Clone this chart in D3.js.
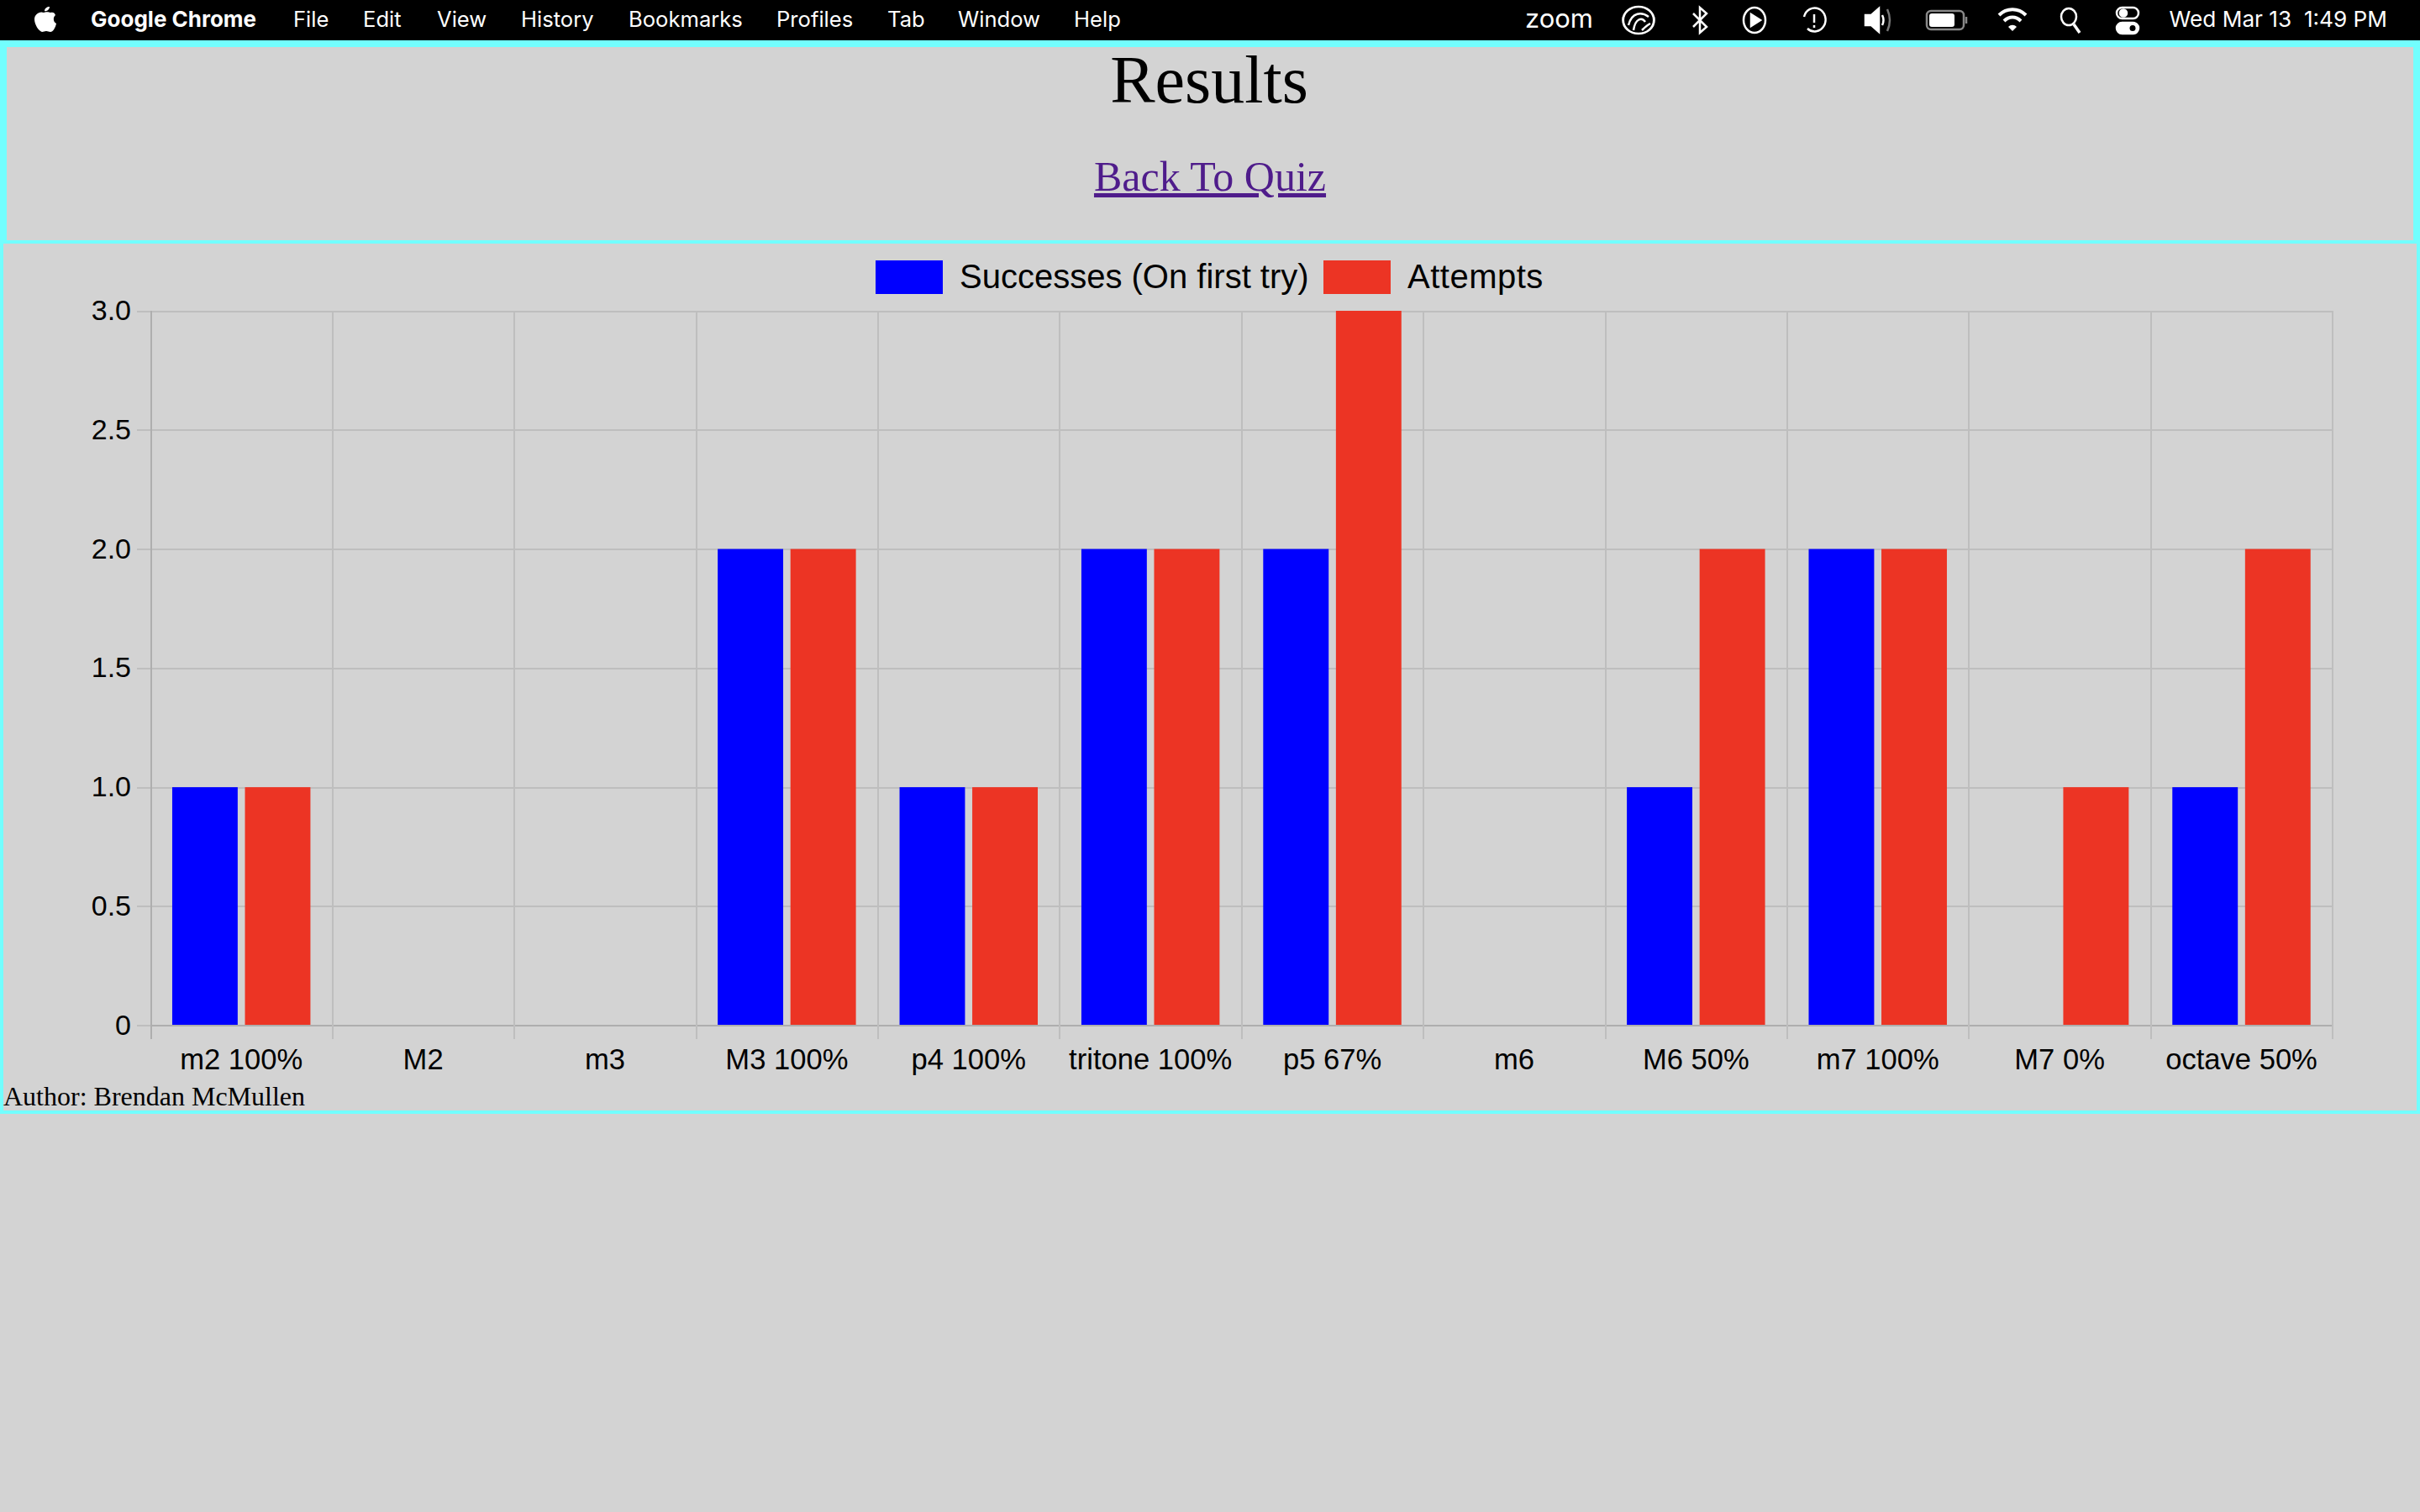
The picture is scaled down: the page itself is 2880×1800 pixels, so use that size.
<!DOCTYPE html>
<html>
<head>
<meta charset="utf-8">
<title>Results</title>
<script src="https://cdn.jsdelivr.net/npm/d3@7"></script>
<style>
    html, body { margin: 0; padding: 0; background: #d3d3d3; overflow: hidden; }
    svg { display: block; }
    .menu { font-family: Inter, "Noto Sans", sans-serif; fill: #fff; font-size: 25.6px; white-space: pre; }
    .serif { font-family: "Liberation Serif", serif; }
    .chart-text { font-family: "Liberation Sans", sans-serif; fill: #000; }
</style>
</head>
<body>
<div id="my_dataviz"></div>
<script>
var intervals = ["m2 100%", "M2", "m3", "M3 100%", "p4 100%", "tritone 100%", "p5 67%", "m6", "M6 50%", "m7 100%", "M7 0%", "octave 50%"];
var successes = [1, 0, 0, 2, 1, 2, 2, 0, 1, 2, 0, 1];
var attempts = [1, 0, 0, 2, 1, 2, 3, 0, 2, 2, 1, 2];
var seriesNames = ["Successes (On first try)", "Attempts"];
var yTicks = [0, 0.5, 1, 1.5, 2, 2.5, 3];

var menuLeft = [["File", 349], ["Edit", 432], ["View", 520], ["History", 620], ["Bookmarks", 748], ["Profiles", 924], ["Tab", 1056], ["Window", 1140], ["Help", 1278]];

var BLUE = "#0000ff", RED = "#ec3424", CYAN = "#72fefe", BG = "#d3d3d3";
var GRID = "#bebebe", AXIS = "#aeaeae";

var plot = {left: 179, right: 2775.7, top: 370, bottom: 1220.7};

var svg = d3.select("#my_dataviz")
    .append("svg")
    .attr("width", 2880)
    .attr("height", 1800)
    .style("background-color", BG);

DrawMenuBar();
DrawBoxes();
DrawChart();

function DrawBoxes()
{
    // outline pieces: x, y, w, h
    var outline = [
        [0, 48, 2880, 8],       // header top
        [0, 48, 8, 240],        // header left
        [2872, 48, 8, 240],     // header right
        [0, 286, 2880, 4],      // between header and chart
        [0, 286, 4, 1040],      // chart left
        [2876, 286, 4, 1040],   // chart right
        [0, 1322, 2880, 4]      // chart bottom
    ];
    svg.append("g").selectAll("rect").data(outline).enter().append("rect")
        .attr("x", function(d) { return d[0]; })
        .attr("y", function(d) { return d[1]; })
        .attr("width", function(d) { return d[2]; })
        .attr("height", function(d) { return d[3]; })
        .attr("fill", CYAN);

    svg.append("text").attr("class", "serif")
        .attr("x", 1439).attr("y", 122)
        .attr("text-anchor", "middle")
        .style("font-size", "80px")
        .text("Results");

    svg.append("a").attr("href", "#")
        .append("text").attr("class", "serif")
        .attr("x", 1440).attr("y", 227)
        .attr("text-anchor", "middle")
        .attr("fill", "#4f1c8b")
        .style("font-size", "50px")
        .style("text-decoration", "underline")
        .style("text-decoration-thickness", "5px")
        .style("text-underline-offset", "3px")
        .text("Back To Quiz");

    svg.append("text").attr("class", "serif")
        .attr("x", 4).attr("y", 1316)
        .style("font-size", "32px")
        .text("Author: Brendan McMullen");
}

function DrawChart()
{
    var x0 = d3.scaleBand().domain(intervals).range([plot.left, plot.right]);
    var x1 = d3.scaleBand().domain(seriesNames)
        .range([x0.bandwidth() * 0.1, x0.bandwidth() * 0.9])
        .paddingInner(0.1).paddingOuter(0.05);
    var y = d3.scaleLinear().domain([0, 3]).range([plot.bottom, plot.top]);
    var edges = d3.scaleLinear().domain([0, intervals.length]).range([plot.left, plot.right]);

    // horizontal grid + y labels
    var yAxis = svg.append("g")
        .attr("transform", "translate(" + plot.left + ",0)")
        .call(d3.axisLeft(y).tickValues(yTicks)
            .tickFormat(function(d) { return d === 0 ? "0" : d3.format(".1f")(d); })
            .tickSizeInner(16).tickSizeOuter(0).tickPadding(7));
    yAxis.select(".domain").attr("stroke", AXIS).attr("stroke-width", 2).attr("shape-rendering", "crispEdges");
    yAxis.selectAll(".tick line").attr("stroke", GRID).attr("stroke-width", 2).attr("shape-rendering", "crispEdges");
    yAxis.selectAll(".tick").append("line")
        .attr("x2", plot.right - plot.left)
        .attr("stroke", function(d) { return d === 0 ? AXIS : GRID; })
        .attr("stroke-width", 2)
        .attr("shape-rendering", "crispEdges");
    yAxis.selectAll(".tick text")
        .attr("class", "chart-text")
        .attr("dy", "0.31em")
        .style("font-size", "34px");

    // vertical grid
    var xGrid = svg.append("g")
        .attr("transform", "translate(0," + (plot.bottom + 16) + ")")
        .call(d3.axisBottom(edges).tickValues(d3.range(intervals.length + 1))
            .tickFormat("").tickSizeInner(-(plot.bottom + 16 - plot.top)).tickSizeOuter(0));
    xGrid.select(".domain").remove();
    xGrid.selectAll(".tick line")
        .attr("stroke", function(d) { return d === 0 ? AXIS : GRID; })
        .attr("stroke-width", 2)
        .attr("shape-rendering", "crispEdges");

    // category labels
    var xAxis = svg.append("g")
        .attr("transform", "translate(0," + plot.bottom + ")")
        .call(d3.axisBottom(x0).tickSize(0).tickPadding(28));
    xAxis.select(".domain").remove();
    xAxis.selectAll(".tick text")
        .attr("class", "chart-text")
        .style("font-size", "34.6px");

    // bars
    var rows = intervals.map(function(d, i) {
        return {name: d, values: [
            {series: seriesNames[0], value: successes[i], color: BLUE},
            {series: seriesNames[1], value: attempts[i], color: RED}
        ]};
    });
    svg.append("g").selectAll("g")
        .data(rows)
        .enter().append("g")
        .attr("transform", function(d) { return "translate(" + x0(d.name) + ",0)"; })
        .selectAll("rect")
        .data(function(d) { return d.values; })
        .enter().append("rect")
        .attr("x", function(d) { return x1(d.series); })
        .attr("y", function(d) { return y(d.value); })
        .attr("width", x1.bandwidth())
        .attr("height", function(d) { return Math.max(0, y(0) - y(d.value) - 0.7); })
        .attr("fill", function(d) { return d.color; });

    // legend
    var legend = [[seriesNames[0], BLUE, 1042, 0], [seriesNames[1], RED, 1575, 0.5]];
    legend.forEach(function(l) {
        svg.append("rect").attr("x", l[2]).attr("y", 310).attr("width", 80).attr("height", 40).attr("fill", l[1]);
        svg.append("text").attr("class", "chart-text")
            .attr("x", l[2] + 100).attr("y", 343)
            .style("font-size", "40px")
            .style("letter-spacing", l[3] + "px")
            .text(l[0]);
    });
}

function DrawMenuBar()
{
    svg.append("rect").attr("width", 2880).attr("height", 48).attr("fill", "#000");

    svg.append("text").attr("class", "menu").attr("x", 108).attr("y", 32)
        .style("font-weight", 700).style("font-size", "26px").text("Google Chrome");
    svg.selectAll("text.item").data(menuLeft).enter().append("text")
        .attr("class", "menu item")
        .attr("x", function(d) { return d[1]; })
        .attr("y", 32)
        .text(function(d) { return d[0]; });

    svg.append("text").attr("class", "menu").attr("x", 1815).attr("y", 33)
        .style("font-size", "31px").style("font-weight", 400).text("zoom");
    svg.append("text").attr("class", "menu").attr("x", 2841).attr("y", 32)
        .attr("text-anchor", "end").style("font-size", "26.2px").text("Wed Mar 13  1:49 PM");

    // apple logo
    svg.append("path")
        .attr("transform", "translate(39,8)")
        .attr("fill", "#fff")
        .attr("d", "M13 7C15 6 19 6 21 7C24 6 26 7 27 10C24 12 24 18 28 20C27 25 24 30 21 30C19 30 18 29 16 29C14 29 13 30 11 30C7 29 2 21 2 15C2 9 8 5 13 7ZM14 5C14 2 17 0 20 0C20 3 17 6 14 5Z");

    var icon = function(cx) {
        return svg.append("g").attr("transform", "translate(" + cx + ",24)")
            .attr("fill", "none").attr("stroke", "#fff").attr("stroke-width", 2.5);
    };

    // creative cloud
    var cc = icon(1950);
    cc.append("circle").attr("r", 16).attr("transform", "scale(1.15,1)");
    cc.append("path").attr("d", "M-12 6C-8 -10 4 -10 12 -4M-6 12C-4 -2 4 -4 8 2M4 12C8 8 10 6 14 4");

    // bluetooth
    icon(2023).append("path").attr("d", "M-8 -8L8 8L0 15V-15L8 -8L-8 8");

    // play
    var play = icon(2088);
    play.append("ellipse").attr("rx", 13).attr("ry", 15);
    play.append("path").attr("d", "M-4 -7L7 0L-4 7Z").attr("fill", "#fff");

    // time machine
    var tm = icon(2159);
    tm.append("path").attr("d", "M-12 -4A13 14 0 1 1 -8 10");
    tm.append("path").attr("d", "M0 -7V3M0 6V9");

    // volume
    var vol = icon(2236);
    vol.append("path").attr("d", "M-16 -6H-9L0 -14V14L-9 6H-16Z").attr("fill", "#fff");
    vol.append("path").attr("d", "M4 -6Q7 0 4 6");
    vol.append("path").attr("d", "M10 -13Q16 0 10 13").attr("stroke", "#777");

    // battery
    var bat = icon(2316);
    bat.append("rect").attr("x", -23).attr("y", -11).attr("width", 44).attr("height", 22).attr("rx", 5).attr("stroke", "#888");
    bat.append("rect").attr("x", -20).attr("y", -8).attr("width", 30).attr("height", 16).attr("rx", 3).attr("fill", "#fff").attr("stroke", "none");
    bat.append("path").attr("d", "M24 -4V4").attr("stroke", "#888");

    // wifi
    var wifi = icon(2395);
    wifi.attr("stroke-width", 4);
    wifi.append("path").attr("d", "M-16 -6C-7 -15 7 -15 16 -6M-10 1C-4 -5 4 -5 10 1");
    wifi.append("path").attr("d", "M-5 8L0 13L5 8C2 5 -2 5 -5 8Z").attr("fill", "#fff").attr("stroke", "none");

    // search
    var search = icon(2464);
    search.append("ellipse").attr("cx", -2).attr("cy", -4).attr("rx", 9).attr("ry", 10);
    search.append("path").attr("d", "M4 5L11 15").attr("stroke-width", 3.5);

    // control centre
    var ctl = icon(2532);
    ctl.append("rect").attr("x", -13).attr("y", -15).attr("width", 26).attr("height", 13).attr("rx", 6.5);
    ctl.append("circle").attr("cx", -5).attr("cy", -8.5).attr("r", 4).attr("fill", "#fff");
    ctl.append("rect").attr("x", -13).attr("y", 3).attr("width", 26).attr("height", 13).attr("rx", 6.5).attr("fill", "#fff");
    ctl.append("circle").attr("cx", 6).attr("cy", 9.5).attr("r", 3.5).attr("fill", "#000").attr("stroke", "none");
}
</script>
</body>
</html>
